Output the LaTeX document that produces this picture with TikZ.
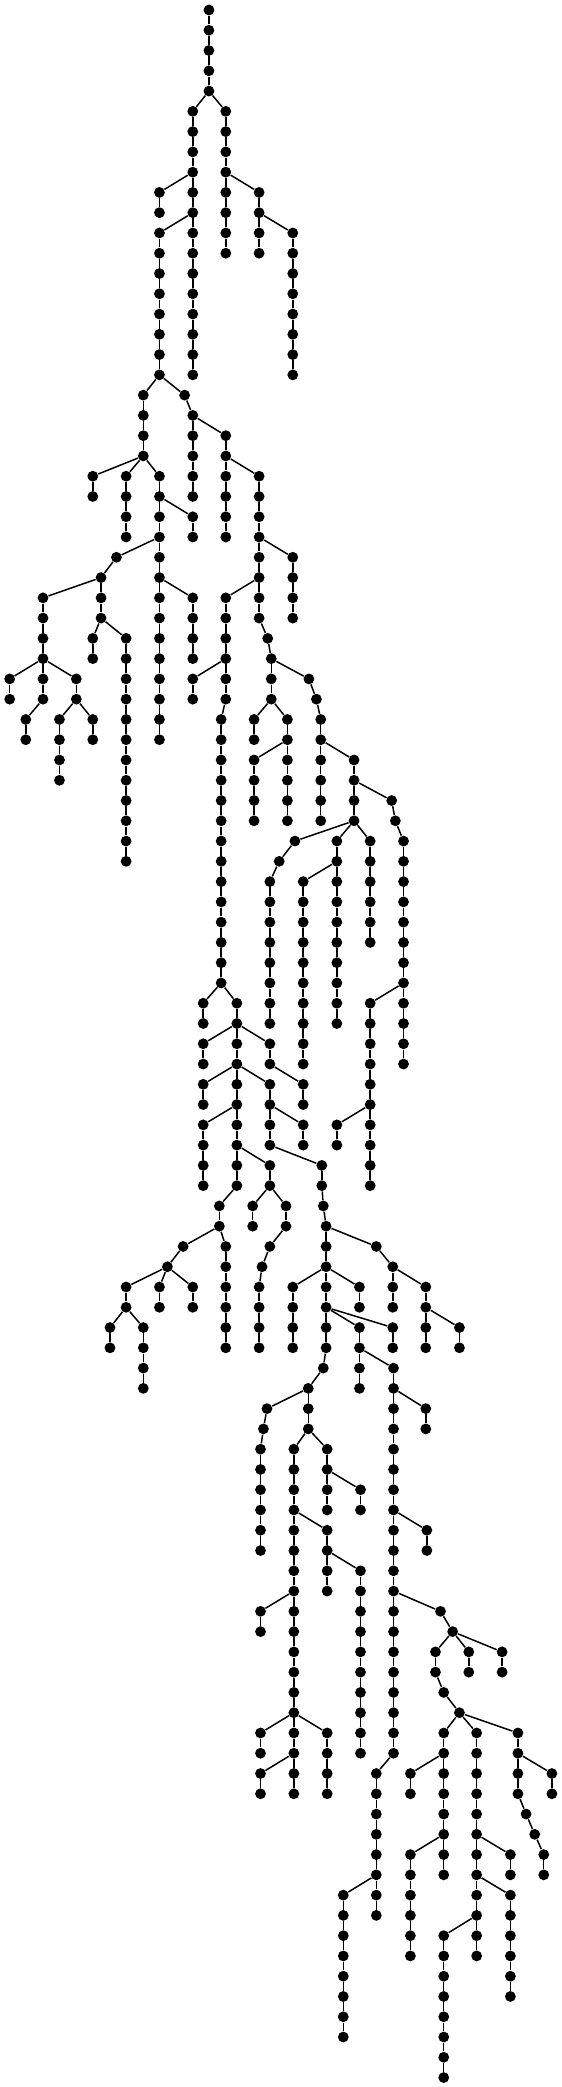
\documentclass[tikz,border=0pt]{standalone}
\usepackage{tikz}

% a vertical run of vertices #1-<level>, at x=#2, from level #3 to level #4
\newcommand{\stem}[4]{%
  \foreach \k in {#3,...,#4} {
    \node[vertex] (#1-\k) at (#2,\k) {};
    \ifnum\k>#3
      \pgfmathtruncatemacro{\kprev}{\k-1}
      \draw[twig] (#1-\kprev) -- (#1-\k);
    \fi
  }%
}

\begin{document}
\begin{tikzpicture}[x=0.5376pt, y=-10.135pt]
        \tikzset{vertex/.style={circle, fill=black, inner sep=0pt, minimum size=5.4pt},
                 twig/.style={line width=0.75pt}}
        \useasboundingbox (0,-0.4934) rectangle (522.64,102.467);

        \stem{a}{194.3}{0}{4}
        \stem{b}{179.3}{5}{8}
        \stem{c}{210}{5}{8}
        \stem{d}{148.3}{9}{10}
        \stem{e}{179.3}{9}{10}
        \stem{f}{148.3}{11}{18}
        \stem{g}{179.3}{11}{18}
        \stem{h}{210}{9}{12}
        \stem{i}{241}{9}{10}
        \stem{j}{241}{11}{12}
        \stem{k}{272.3}{11}{18}
        \stem{m}{133.3}{19}{22}
        \stem{n}{171.7}{19}{19}
        \stem{o}{179.3}{20}{24}
        \stem{p}{210}{21}{22}
        \stem{q}{210}{23}{26}
        \stem{r}{241}{23}{30}
        \stem{s}{272.3}{27}{30}
        \stem{t}{210}{29}{34}
        \stem{u}{179.3}{33}{34}
        \stem{v}{205.7}{35}{48}
        \stem{w}{249}{31}{31}
        \stem{x}{252.3}{32}{34}
        \stem{y}{287.3}{33}{33}
        \stem{z}{294.3}{34}{34}
        \stem{aa}{298.3}{35}{40}
        \stem{ab}{236.3}{35}{36}
        \stem{ac}{267.3}{35}{40}
        \stem{ad}{236.3}{37}{40}
        \stem{ae}{329.3}{37}{40}
        \stem{af}{364.3}{39}{39}
        \stem{ag}{367.7}{40}{40}
        \stem{ah}{375.3}{41}{52}
        \stem{ai}{344.3}{49}{58}
        \stem{aj}{313.3}{55}{56}
        \stem{ak}{274.3}{41}{41}
        \stem{al}{259.7}{42}{42}
        \stem{am}{251}{43}{50}
        \stem{an}{313.3}{41}{50}
        \stem{ao}{282}{43}{52}
        \stem{ap}{344.3}{41}{46}
        \stem{aq}{86.3}{23}{24}
        \stem{ar}{117.3}{23}{26}
        \stem{as}{148.3}{23}{36}
        \stem{at}{179.3}{25}{26}
        \stem{au}{179.3}{29}{32}
        \stem{av}{108.3}{27}{27}
        \stem{aw}{94}{28}{30}
        \stem{ax}{40}{29}{34}
        \stem{ay}{24}{35}{36}
        \stem{az}{9}{33}{34}
        \stem{ba}{71}{33}{34}
        \stem{bb}{55.3}{35}{38}
        \stem{bc}{86.3}{35}{36}
        \stem{bd}{86.3}{31}{32}
        \stem{be}{117.3}{31}{42}
        \stem{bf}{189}{49}{50}
        \stem{bg}{220.3}{49}{58}
        \stem{bh}{189}{51}{52}
        \stem{bi}{251}{51}{52}
        \stem{bj}{282}{53}{54}
        \stem{bk}{189}{53}{54}
        \stem{bl}{251}{53}{56}
        \stem{bm}{282}{55}{56}
        \stem{bn}{189}{55}{58}
        \stem{bo}{251}{57}{58}
        \stem{bp}{235}{59}{60}
        \stem{bq}{266}{59}{60}
        \stem{br}{251}{61}{61}
        \stem{bs}{243.7}{62}{62}
        \stem{bt}{241}{63}{66}
        \stem{bu}{299.3}{57}{58}
        \stem{bv}{300.7}{59}{59}
        \stem{bw}{303.3}{60}{66}
        \stem{bx}{350}{61}{61}
        \stem{by}{365.3}{62}{64}
        \stem{bz}{396}{63}{66}
        \stem{ca}{427.3}{65}{66}
        \stem{cb}{272.3}{63}{66}
        \stem{cc}{334.3}{63}{64}
        \stem{cd}{334.3}{65}{68}
        \stem{ce}{365.3}{65}{66}
        \stem{cf}{366}{67}{86}
        \stem{cg}{396}{69}{70}
        \stem{ch}{397}{75}{76}
        \stem{ci}{409.7}{79}{79}
        \stem{cj}{421}{80}{80}
        \stem{ck}{405}{81}{82}
        \stem{cl}{436}{81}{82}
        \stem{cm}{467}{81}{82}
        \stem{cn}{412.7}{83}{83}
        \stem{co}{427.3}{84}{84}
        \stem{cp}{412.7}{85}{92}
        \stem{cq}{381.7}{87}{88}
        \stem{cr}{381.7}{91}{96}
        \stem{cs}{443.3}{85}{96}
        \stem{ct}{474.7}{91}{92}
        \stem{cu}{474.7}{93}{98}
        \stem{cv}{412.7}{95}{102}
        \stem{cw}{481.7}{85}{88}
        \stem{cx}{513.3}{87}{88}
        \stem{cy}{489.3}{89}{89}
        \stem{cz}{497.3}{90}{90}
        \stem{da}{505.7}{91}{92}
        \stem{db}{350}{87}{94}
        \stem{dc}{319.3}{93}{100}
        \stem{dd}{300.7}{67}{67}
        \stem{de}{286.7}{68}{70}
        \stem{df}{248.3}{69}{69}
        \stem{dg}{245}{70}{70}
        \stem{dh}{242.3}{71}{76}
        \stem{di}{273.3}{71}{84}
        \stem{dj}{304.3}{71}{74}
        \stem{dk}{335.3}{73}{74}
        \stem{dl}{304.3}{75}{78}
        \stem{dm}{335.3}{77}{86}
        \stem{dn}{242.3}{79}{80}
        \stem{do}{242.3}{85}{86}
        \stem{dp}{273.3}{85}{88}
        \stem{dq}{242.3}{87}{88}
        \stem{dr}{304.3}{85}{88}
        \stem{ds}{204}{59}{60}
        \stem{dt}{170.3}{61}{61}
        \stem{du}{155.7}{62}{62}
        \stem{dv}{117.3}{63}{64}
        \stem{dw}{102.3}{65}{66}
        \stem{dx}{133.3}{65}{68}
        \stem{dy}{148.3}{63}{64}
        \stem{dz}{179.3}{63}{64}
        \stem{ea}{210}{61}{66}

        \path[twig]
        (a-4) edge (b-5) (a-4) edge (c-5)
        (b-8) edge (d-9) (b-8) edge (e-9)
        (e-10) edge (f-11) (e-10) edge (g-11)
        (c-8) edge (h-9) (c-8) edge (i-9)
        (i-10) edge (j-11) (i-10) edge (k-11)

        (f-18) edge (m-19) (f-18) edge (n-19)
        (n-19) edge (o-20) (o-20) edge (p-21)
        (p-22) edge (q-23) (p-22) edge (r-23)
        (r-26) edge (s-27) (r-28) edge (t-29)
        (t-32) edge (u-33) (t-34) edge (v-35)
        (r-30) edge (w-31) (w-31) edge (x-32)
        (x-32) edge (y-33) (y-33) edge (z-34) (z-34) edge (aa-35)
        (x-34) edge (ab-35) (x-34) edge (ac-35) (ac-36) edge (ad-37)
        (aa-36) edge (ae-37) (ae-38) edge (af-39) (af-39) edge (ag-40)
        (ag-40) edge (ah-41) (ah-48) edge (ai-49) (ai-54) edge (aj-55)
        (ae-40) edge (ak-41) (ak-41) edge (al-42) (al-42) edge (am-43)
        (ae-40) edge (an-41) (an-42) edge (ao-43) (ae-40) edge (ap-41)

        (m-22) edge (aq-23) (m-22) edge (ar-23) (m-22) edge (as-23)
        (as-24) edge (at-25) (as-28) edge (au-29)
        (as-26) edge (av-27) (av-27) edge (aw-28) (aw-28) edge (ax-29)
        (ax-34) edge (ay-35) (ax-32) edge (az-33) (ax-32) edge (ba-33)
        (ba-34) edge (bb-35) (ba-34) edge (bc-35)
        (aw-30) edge (bd-31) (aw-30) edge (be-31)

        (v-48) edge (bf-49) (v-48) edge (bg-49)
        (bg-50) edge (bh-51) (bg-50) edge (bi-51) (bi-52) edge (bj-53)
        (bg-52) edge (bk-53) (bg-52) edge (bl-53) (bl-54) edge (bm-55)
        (bg-54) edge (bn-55) (bg-56) edge (bo-57)
        (bo-58) edge (bp-59) (bo-58) edge (bq-59)
        (bq-60) edge (br-61) (br-61) edge (bs-62) (bs-62) edge (bt-63)
        (bl-56) edge (bu-57) (bu-58) edge (bv-59) (bv-59) edge (bw-60)
        (bw-60) edge (bx-61) (bx-61) edge (by-62) (by-62) edge (bz-63)
        (bz-64) edge (ca-65)
        (bw-62) edge (cb-63) (bw-62) edge (cc-63)
        (bw-64) edge (cd-65) (bw-64) edge (ce-65)
        (cd-66) edge (cf-67) (cf-68) edge (cg-69) (cf-74) edge (ch-75)
        (cf-78) edge (ci-79) (ci-79) edge (cj-80)
        (cj-80) edge (ck-81) (cj-80) edge (cl-81) (cj-80) edge (cm-81)
        (ck-82) edge (cn-83) (cn-83) edge (co-84)
        (co-84) edge (cp-85) (cp-86) edge (cq-87) (cp-90) edge (cr-91)
        (co-84) edge (cs-85) (cs-90) edge (ct-91) (cs-92) edge (cu-93)
        (cs-94) edge (cv-95)
        (co-84) edge (cw-85) (cw-86) edge (cx-87)
        (cw-88) edge (cy-89) (cy-89) edge (cz-90) (cz-90) edge (da-91)
        (cf-86) edge (db-87) (db-92) edge (dc-93)

        (bw-66) edge (dd-67) (dd-67) edge (de-68)
        (de-68) edge (df-69) (df-69) edge (dg-70) (dg-70) edge (dh-71)
        (de-70) edge (di-71) (de-70) edge (dj-71) (dj-72) edge (dk-73)
        (di-74) edge (dl-75) (dl-76) edge (dm-77) (di-78) edge (dn-79)
        (di-84) edge (do-85) (di-84) edge (dp-85) (dp-86) edge (dq-87)
        (di-84) edge (dr-85)

        (bg-58) edge (ds-59) (ds-60) edge (dt-61) (dt-61) edge (du-62)
        (du-62) edge (dv-63) (dv-64) edge (dw-65) (dv-64) edge (dx-65)
        (du-62) edge (dy-63) (du-62) edge (dz-63)
        (ds-60) edge (ea-61);
    \end{tikzpicture}
\end{document}
